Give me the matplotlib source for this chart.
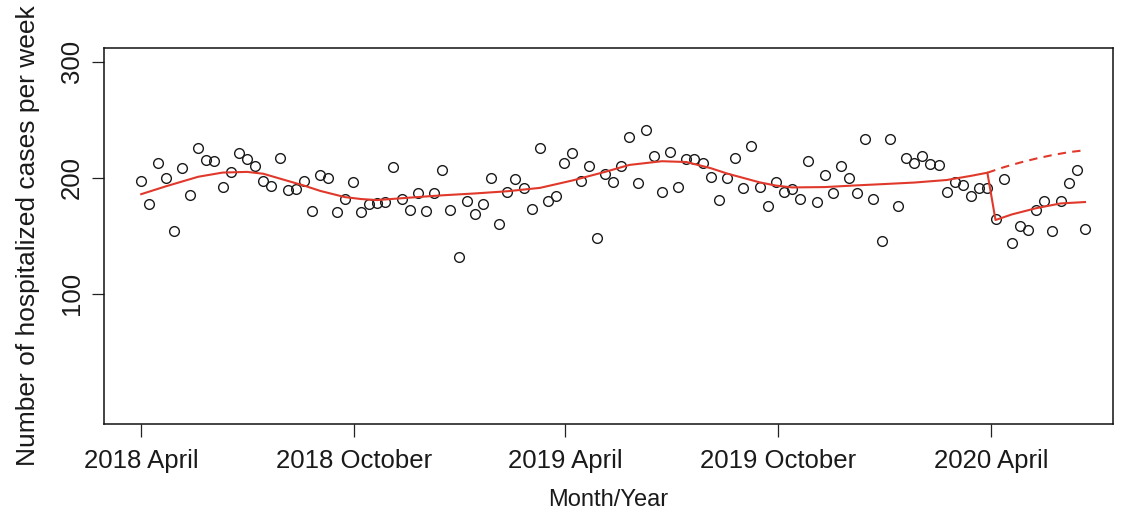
from matplotlib import pyplot as plt
import pandas as pd
import numpy as np

plt.rcParams["font.family"] = ["Liberation Sans", "DejaVu Sans"]

# weekly hospitalized cases, one value per week starting 2018-04-01
cases = [
  197, 177, 213, 200, 154, 208, 185, 226, 215, 214,
  192, 205, 221, 216, 210, 197, 193, 217, 189, 190,
  197, 171, 202, 200, 170, 182, 196, 170, 177, 178,
  179, 209, 182, 172, 187, 171, 187, 207, 172, 132,
  180, 169, 177, 200, 160, 188, 199, 191, 173, 226,
  180, 184, 213, 221, 197, 210, 148, 203, 196, 210,
  235, 195, 241, 219, 188, 222, 192, 216, 216, 213,
  201, 181, 200, 217, 191, 227, 192, 176, 196, 188,
  190, 182, 214, 179, 202, 187, 210, 200, 187, 233,
  182, 145, 233, 176, 217, 213, 219, 212, 211, 188,
  196, 194, 184, 191, 191, 164, 199, 144, 158, 155,
  172, 180, 154, 180, 195, 207, 156,
]
start_date = "2018-04-01"

# fitted curve (week offset, value)
fit_weeks = [0, 3, 7, 10, 13, 15, 17, 20, 22, 25, 27, 29, 33, 37, 41, 45, 49,
             53, 57, 60, 64, 67, 70, 72, 74, 76, 78, 80, 84, 88, 91, 95, 99,
             102, 104, 105, 107, 110, 113, 116]
fit_values = [185.8, 192.5, 200.8, 204.4, 205.0, 203.4, 199.3, 193.2, 188.6,
              183.3, 181.6, 180.7, 182.8, 184.8, 186.4, 188.3, 191.2, 197.6,
              205.0, 211.0, 214.2, 213.5, 208.2, 203.6, 199.8, 196.0, 193.2,
              191.6, 191.9, 193.4, 194.4, 195.8, 198.0, 201.6, 204.3, 163.5,
              168.3, 173.7, 177.8, 179.0]

# counterfactual (no interruption) after 2020 April
cf_weeks = [104, 106, 108, 110, 112, 114, 116]
cf_values = [204.3, 209.0, 213.0, 216.5, 219.5, 222.0, 223.7]

tick_dates = ["2018-04-01", "2018-10-01", "2019-04-01", "2019-10-01", "2020-04-01"]
tick_labels = ["2018 April", "2018 October", "2019 April", "2019 October", "2020 April"]

start = pd.Timestamp(start_date)
dates = pd.date_range(start, periods=len(cases), freq="7D")
fit_dates = [start + pd.Timedelta(days=7 * w) for w in fit_weeks]
cf_dates = [start + pd.Timedelta(days=7 * w) for w in cf_weeks]

fig = plt.figure(figsize=(11.31, 5.14), dpi=100)
ax = fig.add_axes([0.092, 0.176, 0.892, 0.731])

ax.plot(dates, cases, linestyle="none", marker="o", markersize=7,
        markerfacecolor="none", markeredgecolor="#1a1a1a", markeredgewidth=1.0)
ax.plot(fit_dates, fit_values, color="#e0392b", linewidth=1.5)
ax.plot(cf_dates, cf_values, color="#e0392b", linewidth=1.5, linestyle=(0, (4, 3)))

ax.set_ylim(-12, 312)
ax.set_xlim(start - pd.Timedelta(days=32), start + pd.Timedelta(days=836))
ax.set_yticks([100, 200, 300])
ax.set_yticklabels(["100", "200", "300"], rotation=90, va="center")
ax.set_xticks(pd.to_datetime(tick_dates))
ax.set_xticklabels(tick_labels)

ax.tick_params(axis="both", direction="out", length=9, width=0.9, labelsize=18.5,
               color="#222222", labelcolor="#1a1a1a")
ax.tick_params(axis="x", pad=9)
ax.tick_params(axis="y", pad=5.5)
for sp in ax.spines.values():
  sp.set_linewidth(1.1)
  sp.set_color("#111111")

ax.set_xlabel("Month/Year", fontsize=17, labelpad=12, color="#1a1a1a")
ax.set_ylabel("Number of hospitalized cases per week", fontsize=19, labelpad=14,
              color="#1a1a1a")

plt.savefig("out.png", dpi=100)
plt.close()
